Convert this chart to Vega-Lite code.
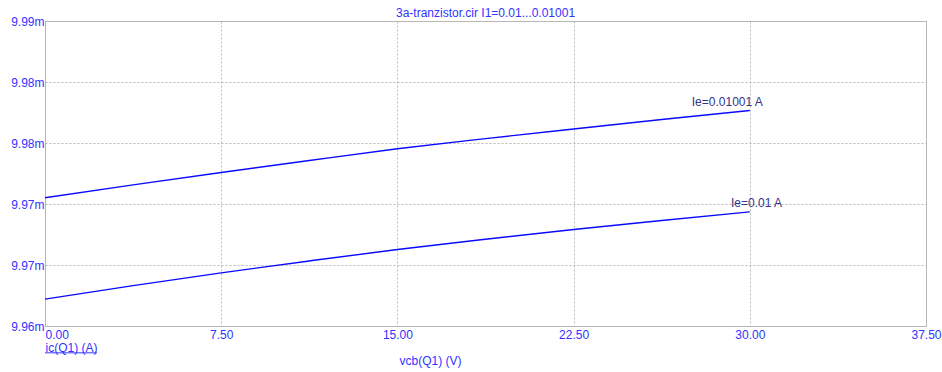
{
  "$schema": "https://vega.github.io/schema/vega-lite/v6.json",
  "autosize": {"type": "none"},
  "width": 881,
  "height": 305,
  "padding": {"left": 45, "top": 21, "right": 16, "bottom": 46},
  "background": "white",
  "config": {
    "font": "Liberation Sans",
    "view": {"stroke": "#b4b4b4", "strokeWidth": 1},
    "axis": {
      "domain": false,
      "ticks": false,
      "grid": true,
      "gridColor": "#b8b8b8",
      "gridDash": [2, 2],
      "gridWidth": 1,
      "labelFont": "Liberation Sans",
      "labelFontSize": 12,
      "labelColor": "#3333ff",
      "titleFont": "Liberation Sans",
      "titleFontSize": 12,
      "titleFontWeight": "normal",
      "titleColor": "#3333ff"
    }
  },
  "title": {
    "text": "3a-tranzistor.cir I1=0.01...0.01001",
    "font": "Liberation Sans",
    "fontSize": 12,
    "fontWeight": "normal",
    "color": "#3333ff",
    "anchor": "middle",
    "offset": -5
  },
  "datasets": {
    "curves": [
      {"vcb": 0, "ic_mA": 9.97261, "Ie": "0.01001"},
      {"vcb": 3.75, "ic_mA": 9.97388, "Ie": "0.01001"},
      {"vcb": 7.5, "ic_mA": 9.9751, "Ie": "0.01001"},
      {"vcb": 11.25, "ic_mA": 9.97628, "Ie": "0.01001"},
      {"vcb": 15, "ic_mA": 9.97743, "Ie": "0.01001"},
      {"vcb": 18.75, "ic_mA": 9.97843, "Ie": "0.01001"},
      {"vcb": 22.5, "ic_mA": 9.97938, "Ie": "0.01001"},
      {"vcb": 26.25, "ic_mA": 9.98031, "Ie": "0.01001"},
      {"vcb": 30, "ic_mA": 9.9812, "Ie": "0.01001"},
      {"vcb": 0, "ic_mA": 9.96264, "Ie": "0.01"},
      {"vcb": 3.75, "ic_mA": 9.96397, "Ie": "0.01"},
      {"vcb": 7.5, "ic_mA": 9.96523, "Ie": "0.01"},
      {"vcb": 11.25, "ic_mA": 9.9664, "Ie": "0.01"},
      {"vcb": 15, "ic_mA": 9.96752, "Ie": "0.01"},
      {"vcb": 18.75, "ic_mA": 9.96853, "Ie": "0.01"},
      {"vcb": 22.5, "ic_mA": 9.96949, "Ie": "0.01"},
      {"vcb": 26.25, "ic_mA": 9.97038, "Ie": "0.01"},
      {"vcb": 30, "ic_mA": 9.97123, "Ie": "0.01"}
    ],
    "labels": [
      {"vcb": 27.53, "ic_mA": 9.98208, "text": "Ie=0.01001 A"},
      {"vcb": 29.2, "ic_mA": 9.97208, "text": "Ie=0.01 A"}
    ],
    "underline": [
      {"vcb": 0, "vcb2": 2.21, "ic_mA": 9.95736}
    ]
  },
  "layer": [
    {
      "data": {"name": "curves"},
      "mark": {"type": "line", "color": "#0a0aff", "strokeWidth": 1.4, "interpolate": "monotone"},
      "encoding": {
        "x": {
          "field": "vcb",
          "type": "quantitative",
          "scale": {"domain": [0, 37.5], "nice": false, "zero": false},
          "axis": {
            "values": [0, 7.5, 15, 22.5, 30, 37.5],
            "format": ".2f",
            "labelPadding": 3,
            "labelAlign": {"condition": {"test": "datum.value == 0", "value": "left"}, "value": "center"},
            "title": "vcb(Q1) (V)",
            "titleAnchor": "start",
            "titleAlign": "center",
            "titleX": 385,
            "titleY": 34,
            "titleBaseline": "middle"
          }
        },
        "y": {
          "field": "ic_mA",
          "type": "quantitative",
          "scale": {"domain": [9.96, 9.99], "nice": false, "zero": false},
          "axis": {
            "values": [9.96, 9.966, 9.972, 9.978, 9.984, 9.99],
            "labelExpr": "format(datum.value, '.2f') + 'm'",
            "labelPadding": 1,
            "labelBaseline": "middle",
            "title": "ic(Q1) (A)",
            "titleAngle": 0,
            "titleAlign": "left",
            "titleBaseline": "middle",
            "titleX": 0,
            "titleY": 326
          }
        },
        "detail": {"field": "Ie"}
      }
    },
    {
      "data": {"name": "labels"},
      "mark": {"type": "text", "align": "left", "baseline": "middle", "font": "Liberation Sans", "fontSize": 12, "color": "#333388"},
      "encoding": {
        "x": {"field": "vcb", "type": "quantitative"},
        "y": {"field": "ic_mA", "type": "quantitative"},
        "text": {"field": "text"}
      }
    },
    {
      "data": {"name": "underline"},
      "mark": {"type": "rule", "color": "#3333ff", "strokeWidth": 1, "clip": false},
      "encoding": {
        "x": {"field": "vcb", "type": "quantitative"},
        "x2": {"field": "vcb2"},
        "y": {"field": "ic_mA", "type": "quantitative"}
      }
    }
  ]
}
